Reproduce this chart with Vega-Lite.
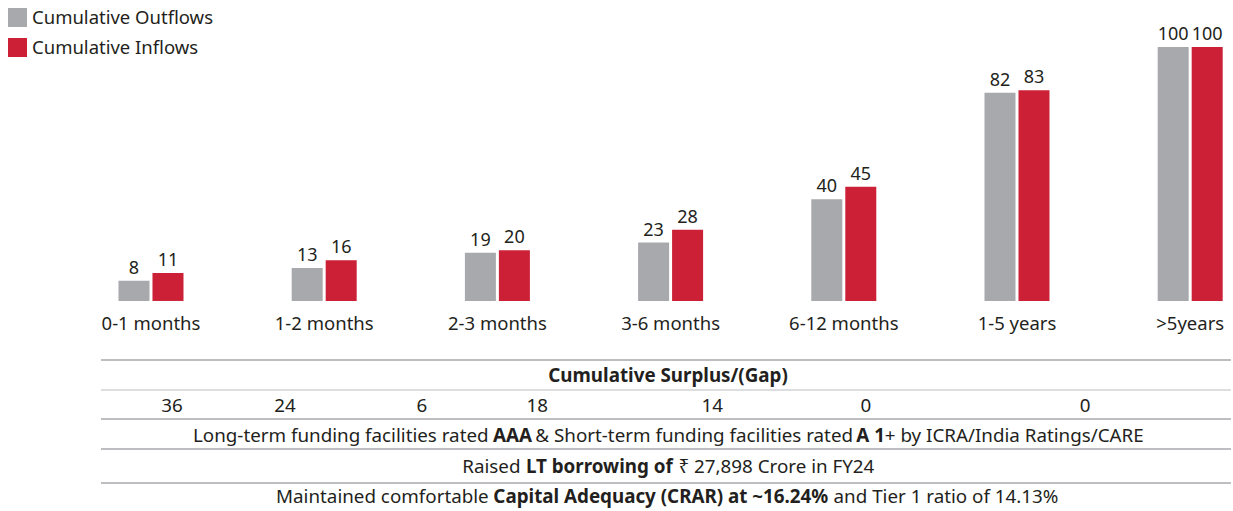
{
  "$schema": "https://vega.github.io/schema/vega-lite/v6.json",
  "width": 1233,
  "height": 511,
  "autosize": {"type": "none"},
  "padding": 0,
  "background": "white",
  "config": {
    "view": {"stroke": null},
    "font": "Noto Sans",
    "text": {"font": "Noto Sans", "color": "#231f20"}
  },
  "datasets": {
    "bars": [
      {"cat": "0-1 months", "series": "Cumulative Outflows", "value": 8},
      {"cat": "0-1 months", "series": "Cumulative Inflows", "value": 11},
      {"cat": "1-2 months", "series": "Cumulative Outflows", "value": 13},
      {"cat": "1-2 months", "series": "Cumulative Inflows", "value": 16},
      {"cat": "2-3 months", "series": "Cumulative Outflows", "value": 19},
      {"cat": "2-3 months", "series": "Cumulative Inflows", "value": 20},
      {"cat": "3-6 months", "series": "Cumulative Outflows", "value": 23},
      {"cat": "3-6 months", "series": "Cumulative Inflows", "value": 28},
      {"cat": "6-12 months", "series": "Cumulative Outflows", "value": 40},
      {"cat": "6-12 months", "series": "Cumulative Inflows", "value": 45},
      {"cat": "1-5 years", "series": "Cumulative Outflows", "value": 82},
      {"cat": "1-5 years", "series": "Cumulative Inflows", "value": 83},
      {"cat": ">5years", "series": "Cumulative Outflows", "value": 100},
      {"cat": ">5years", "series": "Cumulative Inflows", "value": 100}
    ],
    "cats": [
      {"cat": "0-1 months"}, {"cat": "1-2 months"}, {"cat": "2-3 months"},
      {"cat": "3-6 months"}, {"cat": "6-12 months"}, {"cat": "1-5 years"}, {"cat": ">5years"}
    ],
    "lines": [
      {"pos": 0.47, "kind": "main"},
      {"pos": 1.46, "kind": "sub"},
      {"pos": 2.42, "kind": "main"},
      {"pos": 3.41, "kind": "main"},
      {"pos": 4.54, "kind": "main"}
    ],
    "cells": [
      {"row": 1, "u": 50.18, "text": "Cumulative Surplus/(Gap)", "style": "bold", "anchor": "center"},
      {"row": 2, "u": 6.28, "text": "36", "style": "normal", "anchor": "center"},
      {"row": 2, "u": 16.28, "text": "24", "style": "normal", "anchor": "center"},
      {"row": 2, "u": 28.4, "text": "6", "style": "normal", "anchor": "center"},
      {"row": 2, "u": 38.6, "text": "18", "style": "normal", "anchor": "center"},
      {"row": 2, "u": 54.1, "text": "14", "style": "normal", "anchor": "center"},
      {"row": 2, "u": 67.7, "text": "0", "style": "normal", "anchor": "center"},
      {"row": 2, "u": 87.1, "text": "0", "style": "normal", "anchor": "center"},
      {"row": 3, "u": 8.14, "text": "Long-term funding facilities rated", "style": "normal", "anchor": "left"},
      {"row": 3, "u": 34.68, "text": "AAA", "style": "bold", "anchor": "left"},
      {"row": 3, "u": 38.44, "text": "& Short-term funding facilities rated", "style": "normal", "anchor": "left"},
      {"row": 3, "u": 66.84, "text": "A 1", "style": "bold", "anchor": "left"},
      {"row": 3, "u": 69.36, "text": "+ by ICRA/India Ratings/CARE", "style": "normal", "anchor": "left"},
      {"row": 4, "u": 31.97, "text": "Raised", "style": "normal", "anchor": "left"},
      {"row": 4, "u": 37.6, "text": "LT borrowing of", "style": "bold", "anchor": "left"},
      {"row": 4, "u": 51.1, "text": "₹ 27,898 Crore in FY24", "style": "normal", "anchor": "left"},
      {"row": 5, "u": 15.49, "text": "Maintained comfortable", "style": "normal", "anchor": "left"},
      {"row": 5, "u": 34.72, "text": "Capital Adequacy (CRAR) at ~16.24%", "style": "bold", "anchor": "left"},
      {"row": 5, "u": 64.83, "text": "and Tier 1 ratio of 14.13%", "style": "normal", "anchor": "left"}
    ]
  },
  "layer": [
    {
      "layer": [
        {
          "data": {"name": "bars"},
          "mark": {"type": "bar"},
          "encoding": {
            "x": {"field": "cat", "type": "nominal", "axis": null,
                  "scale": {"domain": ["0-1 months", "1-2 months", "2-3 months", "3-6 months", "6-12 months", "1-5 years", ">5years"],
                            "paddingInner": 0.6247, "paddingOuter": 0.3718, "align": 0.92}},
            "xOffset": {"field": "series", "type": "nominal",
                        "scale": {"domain": ["Cumulative Outflows", "Cumulative Inflows"], "paddingInner": 0.088, "paddingOuter": 0}},
            "y": {"field": "value", "type": "quantitative", "axis": null,
                  "scale": {"domain": [-82.7, 118.5], "zero": false, "nice": false}},
            "color": {"field": "series", "type": "nominal",
                      "scale": {"domain": ["Cumulative Outflows", "Cumulative Inflows"], "range": ["#a7a9ac", "#cb2036"]},
                      "legend": {"title": null, "orient": "top-left", "offset": 8, "padding": 0,
                                 "symbolType": "square", "symbolSize": 361, "symbolStrokeWidth": 0,
                                 "labelFontSize": 18.5, "labelFont": "Noto Sans", "labelColor": "#231f20",
                                 "labelLimit": 400, "labelOffset": 5, "rowPadding": 11}}
          }
        },
        {
          "data": {"name": "bars"},
          "mark": {"type": "text", "baseline": "bottom", "dy": -3, "fontSize": 18},
          "encoding": {
            "x": {"field": "cat", "type": "nominal"},
            "xOffset": {"field": "series", "type": "nominal"},
            "y": {"field": "value", "type": "quantitative"},
            "text": {"field": "value", "type": "quantitative"}
          }
        },
        {
          "data": {"name": "cats"},
          "mark": {"type": "text", "baseline": "middle", "fontSize": 18.5},
          "encoding": {
            "x": {"field": "cat", "type": "nominal"},
            "y": {"datum": -9},
            "text": {"field": "cat", "type": "nominal"}
          }
        }
      ]
    },
    {
      "layer": [
        {
          "data": {"name": "lines"},
          "mark": {"type": "rule", "strokeWidth": 1.5},
          "encoding": {
            "x": {"datum": 0, "type": "quantitative", "axis": null,
                  "scale": {"domain": [-8.94, 100.18], "zero": false, "nice": false}},
            "x2": {"datum": 100},
            "y": {"field": "pos", "type": "quantitative", "axis": null,
                  "scale": {"domain": [-11.43, 5.463], "reverse": true, "zero": false, "nice": false}},
            "color": {"condition": {"test": "datum.kind === 'sub'", "value": "#d1d3d4"}, "value": "#a7a9ac"}
          }
        },
        {
          "data": {"name": "cells"},
          "transform": [{"filter": "datum.anchor === 'center' && datum.style === 'normal'"}],
          "mark": {"type": "text", "align": "center", "baseline": "middle", "fontSize": 18.8},
          "encoding": {
            "x": {"field": "u", "type": "quantitative"},
            "y": {"field": "row", "type": "quantitative"},
            "text": {"field": "text", "type": "nominal"}
          }
        },
        {
          "data": {"name": "cells"},
          "transform": [{"filter": "datum.anchor === 'center' && datum.style === 'bold'"}],
          "mark": {"type": "text", "align": "center", "baseline": "middle", "fontSize": 18.8, "fontWeight": "bold"},
          "encoding": {
            "x": {"field": "u", "type": "quantitative"},
            "y": {"field": "row", "type": "quantitative"},
            "text": {"field": "text", "type": "nominal"}
          }
        },
        {
          "data": {"name": "cells"},
          "transform": [{"filter": "datum.anchor === 'left' && datum.style === 'normal'"}],
          "mark": {"type": "text", "align": "left", "baseline": "middle", "fontSize": 18.8},
          "encoding": {
            "x": {"field": "u", "type": "quantitative"},
            "y": {"field": "row", "type": "quantitative"},
            "text": {"field": "text", "type": "nominal"}
          }
        },
        {
          "data": {"name": "cells"},
          "transform": [{"filter": "datum.anchor === 'left' && datum.style === 'bold'"}],
          "mark": {"type": "text", "align": "left", "baseline": "middle", "fontSize": 18.8, "fontWeight": "bold"},
          "encoding": {
            "x": {"field": "u", "type": "quantitative"},
            "y": {"field": "row", "type": "quantitative"},
            "text": {"field": "text", "type": "nominal"}
          }
        }
      ]
    }
  ],
  "resolve": {"scale": {"x": "independent", "y": "independent"}}
}
